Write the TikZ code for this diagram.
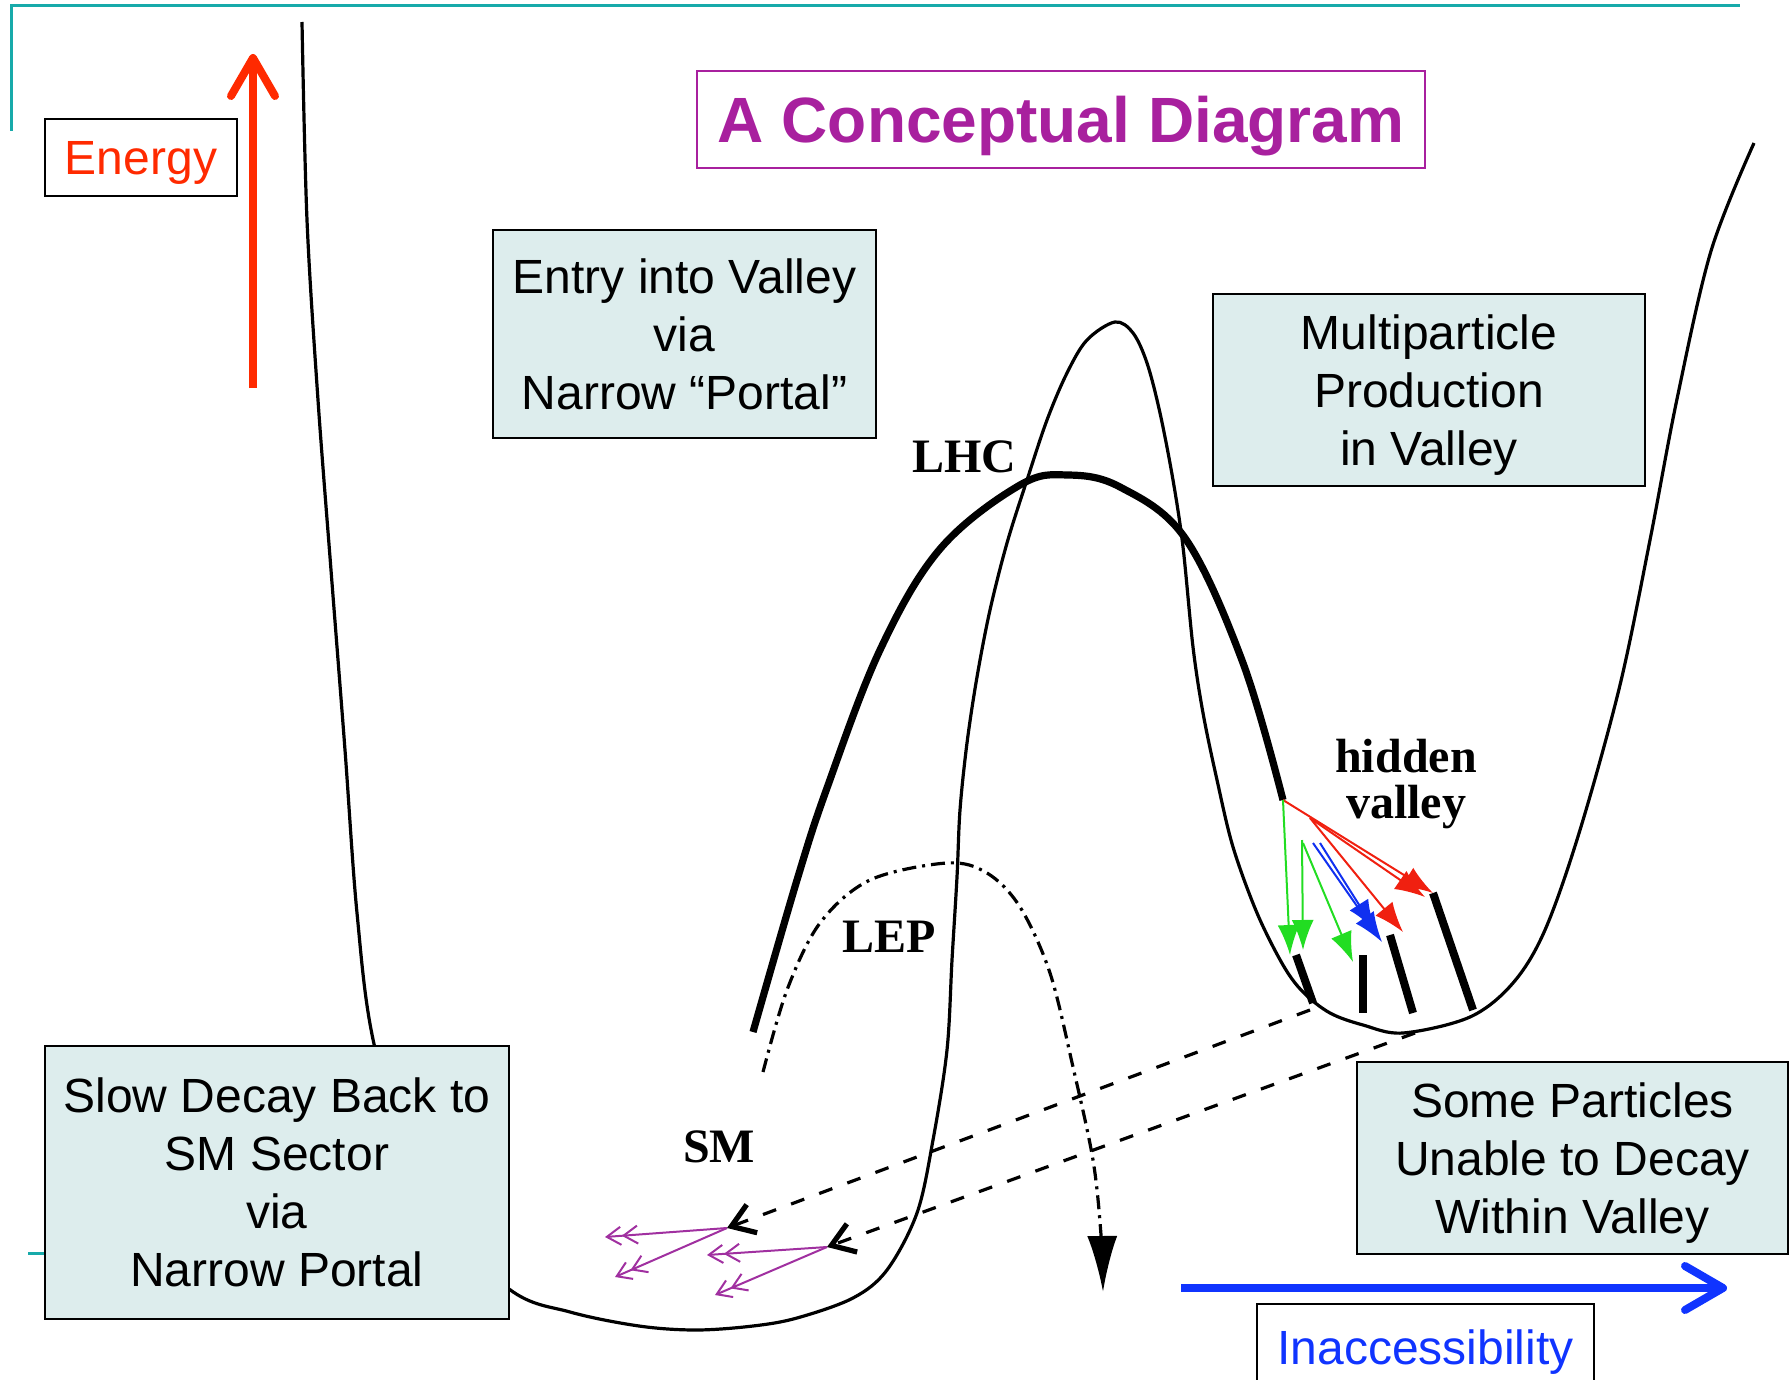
\documentclass[tikz,border=0pt]{standalone}
\usepackage{fontspec}
\setmainfont{Liberation Sans}
\newfontfamily\labelfont{Liberation Serif}
\usepackage{tikz}
\usetikzlibrary{arrows.meta, positioning}
\definecolor{frameteal}{HTML}{17AAAA}
\definecolor{boxfill}{HTML}{DDEDED}
\definecolor{titlepurple}{HTML}{A8209E}
\definecolor{energyred}{HTML}{FF2A00}
\definecolor{inaccblue}{HTML}{1034FF}
\definecolor{smpurple}{HTML}{A030A0}
\definecolor{hvred}{HTML}{F02010}
\definecolor{hvblue}{HTML}{1030F0}
\definecolor{hvgreen}{HTML}{22DD22}

\begin{document}
\begin{tikzpicture}[
  x=0.5pt, y=-0.5pt,
  note/.style={draw=black, fill=boxfill, line width=0.8pt, align=center, inner sep=0pt, text depth=0pt, font=\fontsize{24}{29}\selectfont},
  tag/.style={draw=black, fill=white, line width=0.8pt, align=center, inner sep=0pt, font=\fontsize{24}{29}\selectfont},
  lbl/.style={font=\labelfont\bfseries\fontsize{24}{19}\selectfont, inner sep=0pt},
  well/.style={line width=1.6pt, line join=round},
  beam/.style={line width=3.6pt},
  lep/.style={line width=1.6pt, dash pattern=on 7pt off 3pt on 1.5pt off 3pt},
  decay/.style={line width=1.6pt, dash pattern=on 7pt off 8pt, -{Straight Barb[length=11pt, width=15pt, line width=2.6pt]}},
  smarr/.style={smpurple, line width=1pt, -{Straight Barb[length=7pt, width=9pt] Straight Barb[length=7pt, width=9pt]}},
  hvarr/.style={line width=1pt, -{Latex[length=15pt, width=11pt]}},
  bar/.style={line width=4pt},
  axis/.style={line width=4pt, -{Straight Barb[length=19pt, width=22pt, round]}}
]
\useasboundingbox (0,0) rectangle (1789,1380);

% slide frame
\draw[frameteal, line width=1.5pt] (11,131) -- (11,6) -- (1740,6);
\draw[frameteal, line width=1.5pt] (28,1253) -- (60,1253);

% potential: SM well, portal barrier, hidden valley
\draw[well] plot[smooth, tension=0.55] coordinates {(302,22) (307,220) (318,400) (331,570) (345,750) (357,913) (374,1044) (420,1200) (509,1289) (570,1312) (639,1326) (696,1330) (753,1326) (797,1318) (853,1298) (887,1270) (917,1213) (933,1140) (947,1050) (952,960) (957,877) (960,810) (967,743) (977,677) (990,610) (1007,543) (1027,480) (1047,420) (1067,373) (1087,340) (1115,322) (1133,333) (1147,363) (1160,413) (1173,480) (1183,547) (1193,647) (1203,713) (1217,780) (1233,847) (1257,913) (1283,965) (1303,992) (1330,1013) (1363,1025) (1403,1033) (1470,1017) (1513,983) (1545,930) (1580,830) (1620,685) (1650,540) (1677,399) (1711,251) (1754,143)};

% LHC and LEP reach
\draw[beam] plot[smooth, tension=0.6] coordinates {(753,1032) (797,880) (827,788) (880,650) (940,549) (1020,485) (1068,475) (1120,487) (1185,538) (1243,663) (1283,800)};
\draw[lep, -{Latex[length=28pt, width=15pt]}] plot[smooth, tension=0.55] coordinates {(763,1072) (787,990) (820,923) (870,880) (947,863) (987,873) (1020,907) (1050,973) (1073,1067) (1093,1160) (1101,1235) (1103,1292)};

% production in the valley
\coordinate (hv) at (1283,800);
\draw[hvarr, hvred] (hv) -- (1433,893);
\draw[hvarr, hvred] (1310,818) -- (1425,897);
\draw[hvarr, hvred] (1310,818) -- (1403,932);
\draw[hvarr, hvblue] (1313,843) -- (1382,942);
\draw[hvarr, hvblue] (1320,843) -- (1375,930);
\draw[hvarr, hvgreen] (hv) -- (1290,955);
\draw[hvarr, hvgreen] (1302,840) -- (1303,950);
\draw[hvarr, hvgreen] (1303,843) -- (1353,962);
\draw[bar] (1296,955) -- (1313,1003);
\draw[bar] (1363,955) -- (1363,1013);
\draw[bar] (1390,935) -- (1413,1013);
\draw[bar] (1433,893) -- (1473,1010);

% slow decay back to the SM
\coordinate (sm1) at (727,1228);
\coordinate (sm2) at (827,1247);
\draw[decay] (1310,1010) -- (sm1);
\draw[decay] (1415,1033) -- (sm2);
\draw[smarr] (sm1) -- (605,1237);
\draw[smarr] (sm1) -- (615,1277);
\draw[smarr] (sm2) -- (707,1255);
\draw[smarr] (sm2) -- (715,1295);

% curve labels
\node[lbl] (lhc) at (964,457) {LHC};
\node[lbl] (lep) at (889,937) {LEP};
\node[lbl] (sm) at (719,1147) {SM};
\node[lbl] (hidden) at (1406,756) {hidden};
\node[lbl, below=6pt of hidden] (valley) {valley};

% axes
\coordinate (ebase) at (253,388);
\coordinate (etip) at (253,54);
\draw[axis, energyred] (ebase) -- (etip);
\coordinate (ibase) at (1181,1288);
\coordinate (itip) at (1727,1288);
\draw[axis, inaccblue] (ibase) -- (itip);
\node[tag, text=energyred, text depth=0pt, minimum width=96pt, minimum height=38.5pt] (energy) at (141,157.5) {Energy};
\node[tag, text=inaccblue, minimum width=168.5pt, minimum height=48pt] (inacc) at (1425.5,1352) {Inaccessibility};

% title and notes
\node[draw=titlepurple, line width=0.8pt, text=titlepurple, inner sep=0pt, text depth=0pt, minimum width=364pt, minimum height=48.5pt, font=\bfseries\fontsize{32}{38}\selectfont] (title) at (1061,119.5) {A Conceptual Diagram};
\node[note, minimum width=191.5pt, minimum height=104pt] (entry) at (684.5,334) {Entry into Valley\\via\\Narrow “Portal”};
\node[note, minimum width=216pt, minimum height=96pt] (multi) at (1429,390) {Multiparticle\\Production\\in Valley};
\node[note, minimum width=232pt, minimum height=136.5pt] (slow) at (277,1182.5) {Slow Decay Back to\\SM Sector\\via\\Narrow Portal};
\node[note, minimum width=215.5pt, minimum height=96pt] (some) at (1572.5,1158) {Some Particles\\Unable to Decay\\Within Valley};

\end{tikzpicture}
\end{document}
